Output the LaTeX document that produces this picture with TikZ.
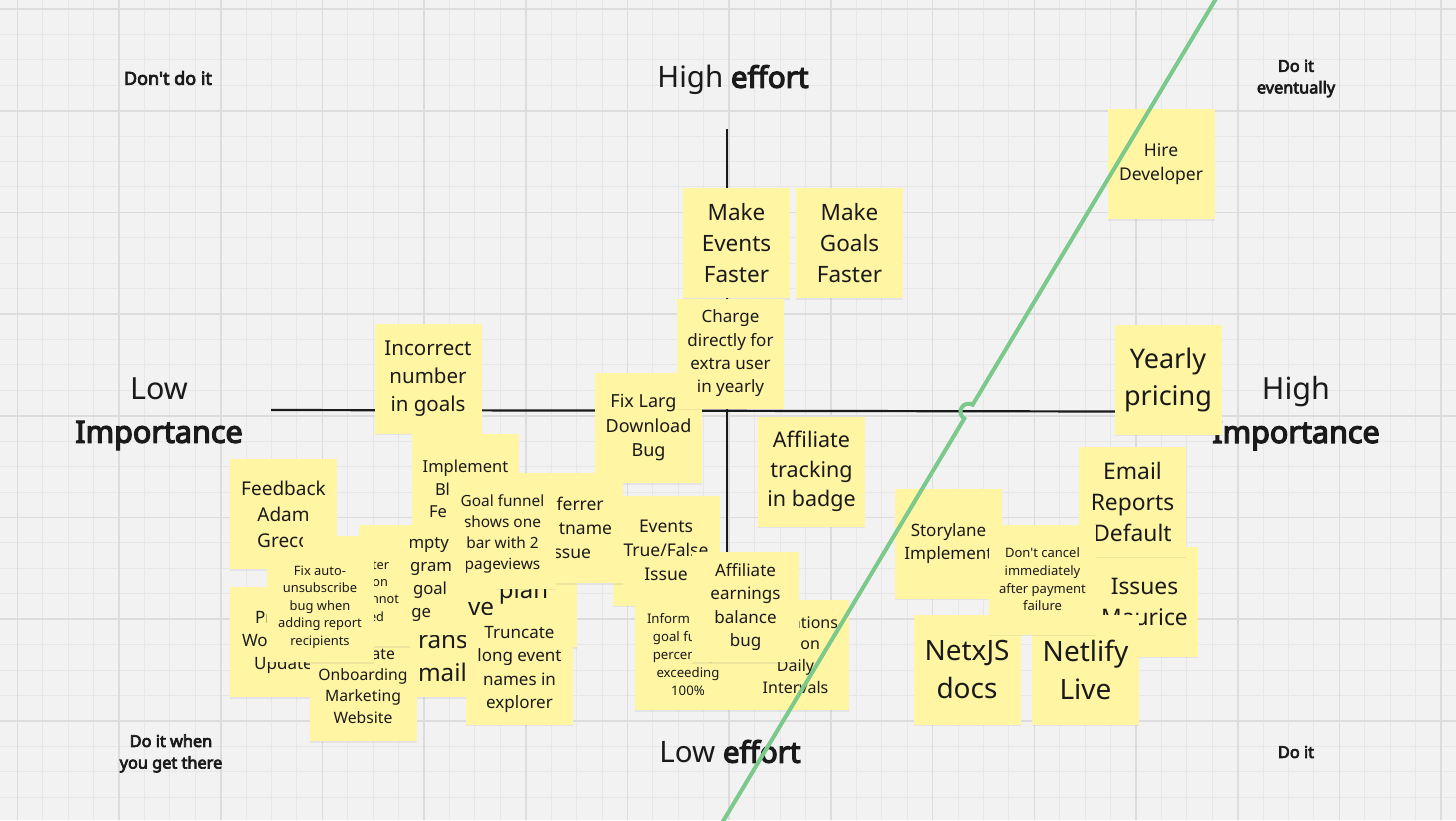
\documentclass[tikz,border=0pt]{standalone}
\usepackage{fontspec}
\setmainfont{Noto Sans}[Ligatures=TeXOff,AutoFakeBold=4.2]
\usetikzlibrary{shadows}
\definecolor{paper}{HTML}{F2F2F2}
\definecolor{gridmin}{HTML}{E7E7E7}
\definecolor{gridmaj}{HTML}{DCDCDC}
\definecolor{notey}{HTML}{FFF5A3}
\definecolor{ink}{HTML}{1A1A1A}
\definecolor{divgreen}{HTML}{7BC98B}
\newcommand\lfrag[2]{\makebox[0pt][l]{\hspace*{#1}#2}}
\newcommand\rfrag[2]{\makebox[0pt][r]{#2\hspace*{-#1}}}
\tikzset{
note/.style 2 args={fill=notey,text=ink,minimum width=107pt,minimum height=110pt,inner sep=0pt,align=center,
  font=\fontsize{#1}{#2}\selectfont,drop shadow={shadow xshift=0pt,shadow yshift=-1.5pt,opacity=.12}},
tag/.style 2 args={text=ink,align=center,font=\fontsize{#1}{#2}\selectfont},
axis/.style={ink,line width=2.2pt},
}
\begin{document}
\begin{tikzpicture}[x=1pt,y=-1pt]
\fill[paper](0,0)rectangle(1456,820);
\useasboundingbox(0,0)rectangle(1456,820);
% grid
\foreach \k in {-1,...,57}{\draw[gridmin,line width=1pt]({17.3+25.425*\k},0)--++(0,820);}
\foreach \k in {0,...,32}{\draw[gridmin,line width=1pt](0,{9+25.425*\k})--++(1456,0);}
\foreach \k in {0,...,14}{\draw[gridmaj,line width=1.6pt]({17.3+101.7*\k},0)--++(0,820);}
\foreach \k in {0,...,8}{\draw[gridmaj,line width=1.6pt](0,{9+101.7*\k})--++(1456,0);}
% quadrant labels
\node[tag={18}{22}](dont)at(168,78){\textbf{Don't do it}};
\node[tag={16.3}{21.6}](eventual)at(1296,78.5){\textbf{Do it}\\\textbf{eventually}};
\node[tag={16.3}{21.6}](whenthere)at(171,753.5){\textbf{Do it when}\\\textbf{you get there}};
\node[tag={16.3}{21.6}](doit)at(1296,752){\textbf{Do it}};
\node[tag={29.5}{40}](higheff)at(733,80){High \textbf{effort}};
\node[tag={29.5}{40}](loweff)at(730,751.5){Low \textbf{effort}};
\node[tag={30.5}{43}](lowimp)at(159,414){Low\\\textbf{Importance}};
\node[tag={30.5}{43}](highimp)at(1296,413.5){High\\\textbf{Importance}};
% axes
\draw[axis](271,410)--(1120,411.5);
\draw[axis](727,129)--(727,700);
% sticky notes
\node[note={17.5}{24}](hire)at(1161,164){Hire\\Developer};
\node[note={22.5}{31}](mkevents)at(736.5,243){Make\\Events\\Faster};
\node[note={22.5}{31}](mkgoals)at(849.5,243){Make\\Goals\\Faster};
\node[note={18}{24.5}](fixlarge)at(648.5,428){Fix Large\\Download\\Bug};
\node[note={17}{23.3}](charge)at(730.5,353.5){Charge\\directly for\\extra user\\in yearly};
\node[note={20.5}{28}](incorrect)at(428,378.5){Incorrect\\number\\in goals};
\node[note={27}{37}](yearly)at(1168,379.5){Yearly\\pricing};
\node[note={21.5}{29.5}](afftrack)at(811.5,471.5){Affiliate\\tracking\\in badge};
\node[note={17.5}{24}](truefalse)at(666,550.5){Events\\True/False\\Issue};
\node[note={16.5}{22.5}](implement)at(465.5,489){Implement\\\lfrag{-30.5pt}{Bl}\\\lfrag{-36.5pt}{Fe}};
\node[note={24}{33}](plan)at(523.5,592){plan};
\node[note={17.5}{24}](referrer)at(569.5,528){\rfrag{34.2pt}{ferrer}\\\rfrag{42.5pt}{tname}\\\rfrag{21.5pt}{ssue}};
\node[note={15.4}{21}](funnel)at(502.5,533.5){Goal funnel\\shows one\\bar with 2\\pageviews};
\node[note={24.3}{33}](emails)at(442.5,642){\lfrag{25.5pt}{ve}\\\lfrag{-24.5pt}{rans}\\\lfrag{-24.5pt}{mails}};
\node[note={19}{26}](feedback)at(283.5,514){Feedback\\Adam\\Greco};
\node[note={17}{23}](update)at(283.5,642){\lfrag{-28.5pt}{Pr}\\\lfrag{-41.5pt}{Wo}\\Update};
\node[note={16.7}{22.7}](empty)at(412,579.5){\rfrag{37pt}{mpty}\\\rfrag{40pt}{gram}\\\lfrag{1pt}{goal}\\\rfrag{19pt}{ge}};
\node[note={15.7}{21.3}](website)at(363,686){\rfrag{32pt}{ate}\\Onboarding\\Marketing\\Website};
\node[note={12.7}{17.3}](cannot)at(356.5,591){\rfrag{32.5pt}{ter}\\\rfrag{31.5pt}{on}\\\rfrag{42.5pt}{nnot}\\\rfrag{27.5pt}{ed}};
\node[note={12.9}{17.5}](unsub)at(320,607){Fix auto-\\unsubscribe\\bug when\\adding report\\recipients};
\node[note={17}{23.3}](truncate)at(519.5,669.5){Truncate\\long event\\names in\\explorer};
\node[note={13.2}{18}](inform)at(688,655){\lfrag{-41pt}{Inform}\\goal funnel\\percentage\\exceeding\\100\%};
\node[note={16}{21.7}](daily)at(795.5,655){\rfrag{42.5pt}{ations}\\\rfrag{24.5pt}{on}\\Daily\\Intervals};
\node[note={17}{23.3}](affearn)at(745.5,607){Affiliate\\earnings\\balance\\bug};
\node[note={22.8}{31}](maurice)at(1144.5,601.5){Issues\\Maurice};
\node[note={22.8}{31}](emailrep)at(1132.5,501.5){Email\\Reports\\Default};
\node[note={17}{23}](storylane)at(948.5,543.5){Storylane\\Implement};
\node[note={28}{38}](nextjs)at(967,669.5){NetxJS\\docs};
\node[note={28}{38}](netlify)at(1085.5,669.5){Netlify\\Live};
\node[note={13}{17.7}](dontcancel)at(1042.5,579.5){Don't cancel\\immediately\\after payment\\failure};
% divider with a hop over the axis
\coordinate(gtop)at(1217,-3);
\coordinate(gbot)at(722,823);
\draw[divgreen,line width=4pt](gtop)--(972.6,404.8)arc[start angle=-58.9,end angle=-238.9,radius=8]--(gbot);
\end{tikzpicture}
\end{document}
